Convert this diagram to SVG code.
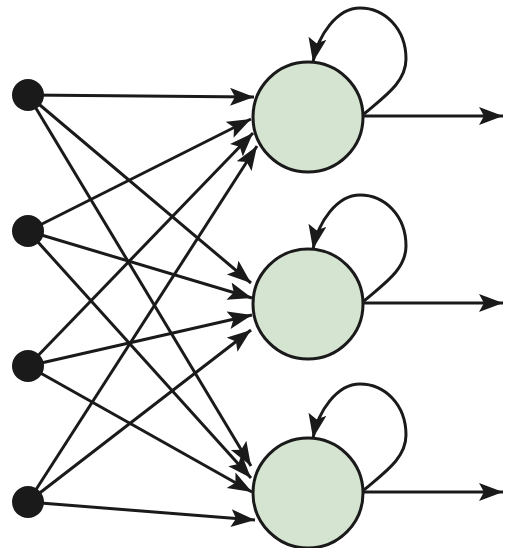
<svg xmlns="http://www.w3.org/2000/svg" width="512" height="548" viewBox="0 0 512 548">
<style>
.c{stroke:#1a1a1a;stroke-width:3;fill:none}
.a{marker-end:url(#ah)}
.neuron{fill:#d4e4d0;stroke:#1a1a1a;stroke-width:3}
.in{fill:#1a1a1a}
</style>
<defs>
<marker id="ah" markerUnits="userSpaceOnUse" markerWidth="26" markerHeight="20" refX="24" refY="9" orient="auto">
<path d="M0,0 L24,9 L0,18 L5,9 z" fill="#1a1a1a"/>
</marker>
</defs>
<rect width="512" height="548" fill="#fff"/>
<g id="connectors">
<line class="c a" x1="28" y1="95" x2="254" y2="97"/>
<line class="c a" x1="28" y1="231" x2="251" y2="119"/>
<line class="c a" x1="28" y1="366" x2="253" y2="133"/>
<line class="c a" x1="28" y1="502" x2="257" y2="146"/>
<line class="c a" x1="28" y1="95" x2="251" y2="283"/>
<line class="c a" x1="28" y1="231" x2="252" y2="298"/>
<line class="c a" x1="28" y1="366" x2="252" y2="315"/>
<line class="c a" x1="28" y1="502" x2="251" y2="330"/>
<line class="c a" x1="28" y1="95" x2="251" y2="466"/>
<line class="c a" x1="28" y1="231" x2="251" y2="478"/>
<line class="c a" x1="28" y1="366" x2="252" y2="492"/>
<line class="c a" x1="28" y1="502" x2="255" y2="520"/>
<line class="c a" x1="363" y1="116" x2="503" y2="116"/>
<line class="c a" x1="363" y1="303" x2="503" y2="303"/>
<line class="c a" x1="363" y1="492" x2="503" y2="492"/>
<path class="c a" d="M364,114 C385,96 406,82 406,59 C406,29 385,8 360,8 C337,8 318,35 313,62"/>
<path class="c a" d="M364,301 C385,283 406,269 406,246 C406,216 385,195 360,195 C337,195 318,222 313,249"/>
<path class="c a" d="M364,490 C385,472 406,458 406,435 C406,405 385,384 360,384 C337,384 318,411 313,438"/>
</g>
<g id="x1"><circle class="in" cx="28" cy="95" r="16"/></g>
<g id="x2"><circle class="in" cx="28" cy="231" r="16"/></g>
<g id="x3"><circle class="in" cx="28" cy="366" r="16"/></g>
<g id="x4"><circle class="in" cx="28" cy="502" r="16"/></g>
<g id="n1"><circle class="neuron" cx="308" cy="117" r="55"/></g>
<g id="n2"><circle class="neuron" cx="308" cy="304" r="55"/></g>
<g id="n3"><circle class="neuron" cx="308" cy="493" r="55"/></g>
</svg>
